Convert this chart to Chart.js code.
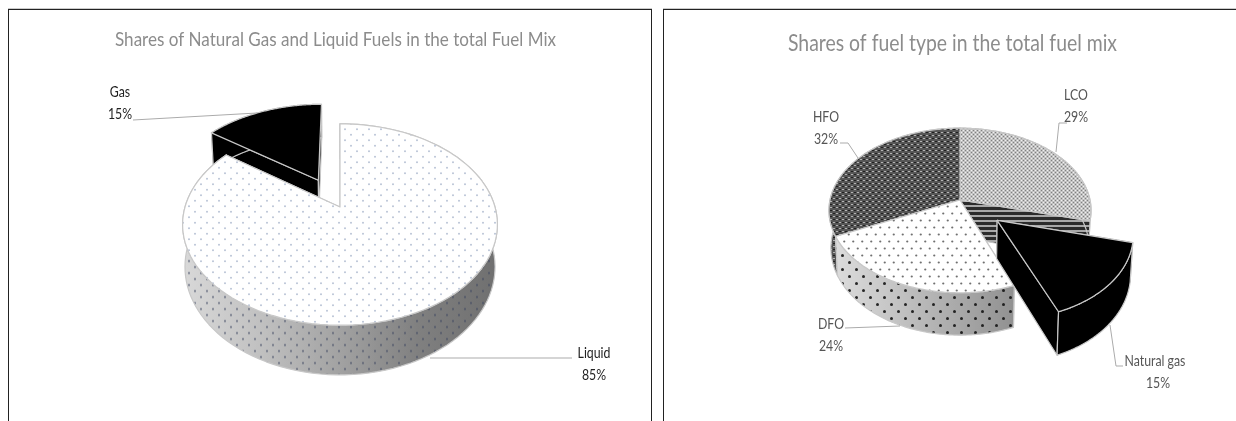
<!DOCTYPE html>
<html>
<head>
<meta charset="utf-8">
<title>Fuel mix shares</title>
<script src="https://cdn.jsdelivr.net/npm/chart.js@4/dist/chart.umd.min.js"></script>
<style>
  html, body { margin: 0; background: #fff; overflow: hidden; }
  canvas { position: absolute; top: 0; }
  #chartLeft { left: 0; }
  #chartRight { left: 671px; }
  .frame { position: absolute; top: 9px; height: 420px; border: 1px solid #222; box-shadow: 0 -1px 0 #ccc; }
</style>
</head>
<body>
<div class="frame" style="left:8px;width:642px"></div>
<div class="frame" style="left:663px;width:600px"></div>
<canvas id="chartLeft" width="671" height="421"></canvas>
<canvas id="chartRight" width="563" height="421"></canvas>
<script>
const leftTitle = "Shares of Natural Gas and Liquid Fuels in the total Fuel Mix";
const leftLabels = ["Liquid", "Gas"];
const leftValues = [85, 15];
const leftOffset = [0, 50];

const rightTitle = "Shares of fuel type in the total fuel mix";
const rightLabels = ["LCO", "Natural gas", "DFO", "HFO"];
const rightValues = [29, 15, 24, 32];
const rightOffset = [0, 48, 0, 0];

//small repeating tiles for the hatched fills
function tile(w, h, bg, draw) {
  const c = document.createElement("canvas");
  c.width = w;
  c.height = h;
  const x = c.getContext("2d");
  if (bg) {
    x.fillStyle = bg;
    x.fillRect(0, 0, w, h);
  }
  draw(x);
  return x.createPattern(c, "repeat");
}

function dots(color, w, h, size) {
  return (x) => {
    x.fillStyle = color;
    [[w / 4, h / 4], [(3 * w) / 4, (3 * h) / 4]].forEach((d) => {
      x.beginPath();
      x.ellipse(d[0], d[1], size[0] / 2, size[1] / 2, 0, 0, Math.PI * 2);
      x.fill();
    });
  };
}

const fillLiquid = tile(12, 11, "#ffffff", dots("#bac4d6", 12, 11, [2, 2]));
const wallLiquid = tile(12, 12, null, dots("rgba(60,70,95,0.5)", 12, 12, [2, 3]));
const fillLco = tile(4, 4, "#c2c2c2", (x) => {
  x.fillStyle = "#808080";
  x.fillRect(0, 0, 1, 1);
  x.fillRect(2, 2, 1, 1);
  x.fillStyle = "#f0f0f0";
  x.fillRect(2, 0, 1, 1);
  x.fillRect(0, 2, 1, 1);
});
const wallLco = tile(4, 5, "#2b2b2b", (x) => {
  x.fillStyle = "#a8a8a8";
  x.fillRect(0, 0, 4, 2);
});
const fillHfo = tile(6, 6, "#565656", (x) => {
  x.fillStyle = "#b4b4b4";
  x.fillRect(0, 0, 2, 1);
  x.fillRect(3, 3, 2, 1);
  x.fillStyle = "#1f1f1f";
  x.fillRect(3, 0, 2, 1);
  x.fillRect(0, 3, 2, 1);
});
const fillDfo = tile(9, 14, "#ffffff", dots("#707070", 9, 14, [2.2, 2.2]));
const wallDfo = tile(14, 14, null, dots("rgba(20,20,20,0.9)", 14, 14, [3, 3]));

function sideShade(ctx, x0, x1, stops) {
  const g = ctx.createLinearGradient(x0, 0, x1, 0);
  stops.forEach((s, i) => g.addColorStop(i / (stops.length - 1), s));
  return g;
}

//draws the arcs the doughnut controller laid out as a tilted, extruded disc
const tiltedPie = {
  id: "tiltedPie",
  beforeDatasetsDraw(chart, args, opts) {
    const ctx = chart.ctx;
    const arcs = chart.getDatasetMeta(0).data;
    const first = arcs[0];
    const r = first.outerRadius;
    const cx = first.x + opts.shift;
    const cy = first.y - opts.lift;
    const ky = opts.tilt;
    const p = opts.perspective;
    const depth = opts.depth;

    const project = (u, v, down) => {
      const s = 1 / (1 - p * v);
      return [cx + r * u * s * (1 - down * 0.015), cy + r * ky * v * s + down * depth * s];
    };

    const order = arcs.map((arc, i) => {
      const mid = (arc.startAngle + arc.endAngle) / 2;
      const e = arc.options.offset / r;
      return { arc, i, mid, e, key: Math.sin(mid) * (1 + 2 * e) };
    }).sort((a, b) => a.key - b.key);

    ctx.save();
    ctx.lineJoin = "round";
    order.forEach(({ arc, i, mid, e }) => {
      const ou = e * Math.cos(mid);
      const ov = e * Math.sin(mid);
      const rim = [];
      for (let k = 0; k <= 120; k++) {
        const a = arc.startAngle + (arc.endAngle - arc.startAngle) * k / 120;
        rim.push([ou + Math.cos(a), ov + Math.sin(a)]);
      }
      const poly = (pts) => {
        ctx.beginPath();
        pts.forEach((q, n) => (n ? ctx.lineTo(q[0], q[1]) : ctx.moveTo(q[0], q[1])));
        ctx.closePath();
      };
      const top = rim.map((q) => project(q[0], q[1], 0));
      const bottom = rim.map((q) => project(q[0], q[1], 1));
      const hubTop = project(ou, ov, 0);
      const hubBottom = project(ou, ov, 1);
      const shade = opts.walls[i](ctx, cx - r, cx + r);

      const paintWall = (pts) => {
        poly(pts);
        shade.forEach((f) => {
          ctx.fillStyle = f;
          ctx.fill();
        });
        ctx.strokeStyle = opts.edge;
        ctx.lineWidth = 1.2;
        ctx.stroke();
      };
      paintWall([hubTop, top[0], bottom[0], hubBottom]);
      paintWall([hubTop, top[120], bottom[120], hubBottom]);
      paintWall(top.concat(bottom.slice().reverse()));

      poly([hubTop].concat(top));
      ctx.fillStyle = arc.options.backgroundColor;
      ctx.fill();
      ctx.strokeStyle = opts.edge;
      ctx.lineWidth = 1.2;
      ctx.stroke();
    });
    ctx.restore();
    return false;
  },
};

//data labels with their leader lines, text is values from the arrays
const calloutLabels = {
  id: "calloutLabels",
  afterDraw(chart, args, opts) {
    const ctx = chart.ctx;
    const ds = chart.data.datasets[0];
    const total = ds.data.reduce((a, b) => a + b, 0);
    const narrowText = (text, x, y) => {
      ctx.save();
      ctx.translate(x, y);
      ctx.scale(0.82, 1);
      ctx.fillText(text, 0, 0);
      ctx.restore();
    };
    ctx.save();
    ctx.translate(opts.originX, 0);
    opts.items.forEach((item, i) => {
      ctx.strokeStyle = "#ababab";
      ctx.lineWidth = 1;
      ctx.beginPath();
      item.line.forEach((q, n) => (n ? ctx.lineTo(q[0], q[1]) : ctx.moveTo(q[0], q[1])));
      ctx.stroke();
      ctx.fillStyle = opts.color;
      ctx.font = opts.font;
      ctx.textAlign = "center";
      ctx.textBaseline = "middle";
      const pct = Math.round((ds.data[i] / total) * 100) + "%";
      narrowText(chart.data.labels[i], item.x, item.y);
      narrowText(pct, item.x2 || item.x, item.y + 22.5);
    });
    ctx.restore();
  },
};

function makeChart(id, labels, values, offsets, fills, title, extra) {
  return new Chart(document.getElementById(id), {
    type: "pie",
    data: {
      labels: labels,
      datasets: [{
        data: values,
        offset: offsets,
        backgroundColor: fills,
        borderWidth: 0,
      }],
    },
    plugins: [tiltedPie, calloutLabels],
    options: {
      responsive: false,
      animation: false,
      events: [],
      layout: { padding: extra.padding },
      plugins: {
        legend: { display: false },
        tooltip: { enabled: false },
        title: {
          display: true,
          text: title,
          color: "#8c8c8c",
          font: { family: "Lato", size: extra.titleSize, weight: "normal" },
          padding: extra.titlePadding,
        },
        tiltedPie: extra.pie,
        calloutLabels: extra.callouts,
      },
    },
  });
}

//the side padding also caps the title width, that gives its narrow look
makeChart("chartLeft", leftLabels, leftValues, leftOffset, [fillLiquid, "#000000"], leftTitle, {
  titleSize: 20,
  titlePadding: { top: 28, bottom: 0 },
  padding: { left: 115, right: 115, top: 0, bottom: 9 },
  pie: {
    shift: 4.5,
    lift: 25,
    tilt: 0.63,
    perspective: 0.174,
    depth: 41,
    edge: "#c8c8c8",
    walls: [
      (ctx, a, b) => [sideShade(ctx, a, b, ["#d8d8d8", "#c0c0c0", "#a2a2a2", "#808080", "#707070"]), wallLiquid],
      () => ["#000000"],
    ],
  },
  callouts: {
    originX: 0,
    color: "#222222",
    font: "15px Lato",
    items: [
      { x: 594, y: 353, line: [[430, 358], [572, 358]] },
      { x: 120, y: 92, line: [[133, 120], [257, 113]] },
    ],
  },
});

makeChart("chartRight", rightLabels, rightValues, rightOffset, [fillLco, "#000000", fillDfo, fillHfo], rightTitle, {
  titleSize: 22.5,
  titlePadding: { top: 30.5, bottom: 0 },
  padding: { left: 117, right: 117, top: 0, bottom: 55.5 },
  pie: {
    shift: 7.5,
    lift: 11.5,
    tilt: 0.623,
    perspective: 0.127,
    depth: 37,
    edge: "#c8c8c8",
    walls: [
      () => [wallLco],
      () => ["#000000"],
      (ctx, a, b) => [sideShade(ctx, a, b, ["#dedede", "#c4c4c4", "#a8a8a8", "#8c8c8c", "#7a7a7a"]), wallDfo],
      () => ["#2a2a2a", fillHfo],
    ],
  },
  callouts: {
    originX: -671,
    color: "#555555",
    font: "15px Lato",
    items: [
      { x: 1076, y: 95, line: [[1067, 123], [1059, 123], [1056, 152]] },
      { x: 1155, y: 361, x2: 1158, line: [[1123, 366], [1116, 366], [1110, 325]] },
      { x: 831, y: 324, line: [[845, 328], [900, 326]] },
      { x: 826, y: 117, line: [[840, 143], [848, 143], [858, 158]] },
    ],
  },
});
</script>
</body>
</html>
